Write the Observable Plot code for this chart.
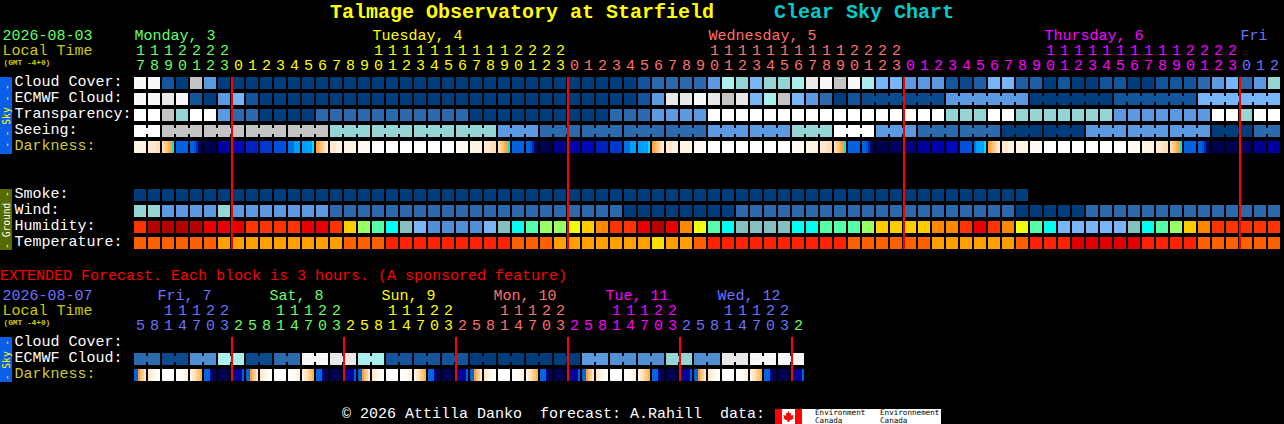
<!DOCTYPE html>
<html>
<head>
<meta charset="utf-8">
<script src="https://cdn.jsdelivr.net/npm/d3@7"></script>
<script src="https://cdn.jsdelivr.net/npm/@observablehq/plot@0.6"></script>
<style>
  html, body { margin: 0; padding: 0; background: #000; overflow: hidden; }
  body { width: 1284px; height: 424px; position: relative; font-family: "Liberation Mono", monospace; font-size: 15px; color: #fff; }
  #title { height: 25px; line-height: 25px; text-align: center; font-size: 20px; font-weight: bold; white-space: pre; }
  #ext { height: 17px; line-height: 17px; color: #ff0000; white-space: pre; }
  svg { display: block; }
  #foot { position: absolute; left: 342px; top: 406px; line-height: 18px; white-space: pre; }
  #logo { position: absolute; left: 775px; top: 409px; width: 166px; height: 15px; background: #fff; overflow: hidden; color: #000; font-family: "DejaVu Sans Mono", monospace; font-size: 7.6px; line-height: 8px; }
  #logo i { position: absolute; top: 0; width: 7px; height: 15px; background: #f00; }
  #leaf { position: absolute; left: 8px; top: 2px; width: 11px; height: 11px; background: #f00;
    clip-path: polygon(50% 0, 62% 22%, 75% 16%, 70% 42%, 100% 38%, 88% 60%, 100% 68%, 58% 86%, 58% 100%, 42% 100%, 42% 86%, 0 68%, 12% 60%, 0 38%, 30% 42%, 25% 16%, 38% 22%); }
  #logo span { position: absolute; top: 0; white-space: pre; }
</style>
</head>
<body>
<div id="title"><span style="color:#ffff00">Talmage Observatory at Starfield</span>     <span style="color:#00cccc">Clear Sky Chart</span></div>
<div id="main"></div>
<div id="ext">EXTENDED Forecast. Each block is 3 hours. (A sponsored feature)</div>
<div id="extchart"></div>
<div id="foot">© 2026 Attilla Danko  forecast: A.Rahill  data:</div>
<div id="logo"><i style="left:0"></i><i style="left:20px"></i><div id="leaf"></div><span style="left:40px">Environment
Canada</span><span style="left:105px">Environnement
Canada</span></div>
<script>
const FONT = '"Liberation Mono", monospace';

// ---- Hour-by-hour forecast -------------------------------------------------
const hours = [17,18,19,20,21,22,23,
  0,1,2,3,4,5,6,7,8,9,10,11,12,13,14,15,16,17,18,19,20,21,22,23,
  0,1,2,3,4,5,6,7,8,9,10,11,12,13,14,15,16,17,18,19,20,21,22,23,
  0,1,2,3,4,5,6,7,8,9,10,11,12,13,14,15,16,17,18,19,20,21,22,23,
  0,1,2];
const days = ["Monday, 3","Tuesday, 4","Wednesday, 5","Thursday, 6","Fri"];
const dayLabelCols = [0,17,41,65,79];
const dayFirstCols = [0,7,31,55,79];
const dayColors = ["#66ff66","#ffff00","#ff7070","#ff00ff","#7070ff"];
const midnightCols = [7,31,55,79];

const cloudCover = [90,90,10,0,70,30,0,
  0,0,0,0,0,0,0,0,0,0,0,0,0,0,0,0,0,0,0,0,0,0,0,0,0,0,0,0,0,
  10,20,20,20,20,30,50,60,40,60,60,50,80,90,70,90,
  50,40,40,30,30,30,10,5,15,40,40,15,15,0,10,0,0,10,10,0,0,10,10,10,20,30,40,20,30,60];
const ecmwfHourly = [90,90,80,90,10,0,30,40,10,
  0,0,0,0,0,0,0,0,0,0,0,0,0,0,0,0,0,0,0,0,0,0,0,0,0,0,0,
  10,30,80,80,90,80,70,80,40,50,70,40,30,20,0,10];
const ecmwfBlocks = [5,30,0,10,40];
const transparency = [100,100,70,60,100,100,30,20,20,0,0,0,0,
  20,20,20,20,20,20,20,20,20,20,20,
  0,0,0,0,0,0,0,0,0,0,
  20,20,20,30,30,30,30,
  100,100,100,100,100,100,100,100,100,100,100,100,100,100,100,100,100,
  60,60,60,100,100,60,60,60,60,60,60,60,
  30,30,30,30,30,30,30,100,100,60,100,100];
const seeingBlocks = [100,70,70,70,70,60,60,60,60,30,20,20,20,20,30,30,60,100,30,20,20,0,0,30,30,30,0,20];
const seeingSpans  = [2,3,3,3,3,3,3,3,3,3,3,3,3,3,3,3,3,3,3,3,3,3,3,3,3,3,3,2];
const darkness = ["b","ccd","defghi","l","llmxtu","v","r","p","o","n","m","kj","jjjjji","hgfedc","cb","b","a",
  "W","W","W","W","W","W","a","b","cd","defghi","l","llmxtu","v","s","q","p","o","n","kj","jjjjji","hgfedc","cb","b","a",
  "W","W","W","W","W","W","a","b","cd","defghi","l","llmxtu","v","u","t","r","q","p","m","kjjjji","hgfedc","cb","b","a",
  "W","W","W","W","W","W","a","b","cd","defghi","l","llmxtu","v","v","u","s","r"];
const smoke = [0,0,0,0,0,0,0,0,0,0,0,0,0,0,0,0,0,0,0,0,0,0,0,0,0,0,0,0,0,0,0,0,
  0,0,0,0,0,0,0,0,0,0,0,0,0,0,0,0,0,0,0,0,0,0,0,0,0,0,0,0,0,0,0,0];
const wind = [60,60,30,30,30,30,60,30,30,30,30,30,30,30,
  20,20,20,20,20,20,20,20,20,20,20,20,20,20,20,20,20,20,20,20,20,
  0,0,0,0,0,0,0,0,
  20,20,20,20,20,20,20,20,20,20,20,20,20,20,20,20,20,20,20,20,
  0,0,0,0,0,
  20,20,20,20,20,20,20,20,20,20,20,20,20,20];
const humidity = [9,11,11,11,11,10,10,10,9,9,9,9,10,10,9,7,5,4,3,2,1,
  0,0,0,0,1,2,3,4,5,5,6,7,8,9,9,10,11,10,8,6,4,3,2,2,2,2,3,3,4,4,4,
  5,7,7,7,7,8,8,9,10,9,8,6,4,3,1,1,1,1,1,2,3,4,5,7,8,9,9,9,9,9];
const temperature = [2,2,2,2,2,2,3,3,3,3,3,3,3,3,3,2,2,2,1,1,1,1,1,1,1,1,1,2,2,2,
  3,3,3,3,3,3,3,4,3,3,2,1,1,1,1,1,1,1,1,1,1,2,2,2,2,2,2,
  3,3,3,3,3,3,2,1,1,1,0,0,0,0,0,1,1,1,1,2,2,2,2,2,2];

const mainRows = ["Cloud Cover:","ECMWF Cloud:","Transparency:","Seeing:","Darkness:","","","Smoke:","Wind:","Humidity:","Temperature:"];

// ---- Extended forecast (3-hour blocks) -------------------------------------
const extHours = [5,8,11,14,17,20,23, 2,5,8,11,14,17,20,23, 2,5,8,11,14,17,20,23,
  2,5,8,11,14,17,20,23, 2,5,8,11,14,17,20,23, 2,5,8,11,14,17,20,23, 2];
const extDays = ["Fri, 7","Sat, 8","Sun, 9","Mon, 10","Tue, 11","Wed, 12"];
const extDayLabelCols = [2,10,18,26,34,42];
const extDayFirstCols = [0,7,15,23,31,39,47];
const extDayColors = ["#7070ff","#66ff66","#ffff00","#ff7070","#ff00ff","#7070ff","#66ff66"];
const extMidnightCols = [7,15,23,31,39,47];
const extEcmwfBlocks = [20,5,25,50,5,20,90,80,50,10,10,10,0,0,0,0,30,25,25,60,25,80,90,90];
const extDarkness = [
  "llhfec","cbaW","W","Wab","bcdefg","lllsuu","v","utrrrl",
  "llhfec","cbaW","W","Wab","bcdefg","lllsuu","v","utrrrl",
  "llhfec","cbaW","W","Wab","bcdefg","lllsuu","v","utrrrl",
  "llhfec","cbaW","W","Wab","bcdefg","lllsuu","v","utrrrl",
  "llhfec","cbaW","W","Wab","bcdefg","lllsuu","v","utrrrl",
  "llhfec","cbaW","W","Wab","bcdefg","lllsuu","v","utrrrl"];
const extRows = ["Cloud Cover:","ECMWF Cloud:","Darkness:"];

// ---- Colour keys ------------------------------------------------------------
const cloudColors = {0:"#003d7d",5:"#0b4a8c",10:"#13559a",15:"#1f5fa5",20:"#2b6aad",25:"#4f8fd2",30:"#5b9ae0",40:"#78b4f8",
  50:"#aaeeee",60:"#95d5d5",70:"#c4c4c4",80:"#e8e8e8",90:"#f8f8f8",100:"#ffffff"};
const humidityColors = ["#4f8fd8","#78b4f6","#85c0c0","#00ffee","#55ffaa","#99ff66","#eeff11","#ffcc00","#ff8800","#ff3300","#e60000","#b50000"];
const temperatureColors = ["#e00000","#ff2200","#ff6000","#ffa000","#ffdd00"];
const darknessColors = {W:"#ffffff",a:"#fffaf2",b:"#fff3e2",c:"#ffe8cc",d:"#ffe0bc",e:"#ffd090",f:"#ffc070",g:"#ffb050",h:"#ffa030",
  i:"#00e0ff",j:"#00a0ff",k:"#0070e8",l:"#0064e0",m:"#0050e0",n:"#0038d0",o:"#0020c0",p:"#0008b8",q:"#0000b0",r:"#0000a0",
  s:"#000090",t:"#000080",u:"#000060",v:"#000050",x:"#0030a0"};

// ---- Geometry helpers: one scale unit is a column (x) or a row (y) ----------
const CW = 12/14, CH = 12/16, MID = 6/14, RMID = 6/16;

const cellsOf = (row, values, colors, start = 0) =>
  values.map((v, i) => ({col: start + i, row, fill: colors[v]}));

function blocksOf(row, values, spans, start) {
  const cells = [], bridges = [];
  let col = start;
  values.forEach((v, i) => {
    const span = Array.isArray(spans) ? spans[i] : spans;
    for (let k = 0; k < span; k++) {
      cells.push({col: col + k, row, fill: cloudColors[v]});
      if (k < span - 1) bridges.push({col: col + k, row, fill: cloudColors[v]});
    }
    col += span;
  });
  return {cells, bridges};
}

const slicesOf = (row, values) => values.flatMap((s, col) =>
  Array.from(s, (c, i) => ({col, row, a: i / s.length, b: (i + 1) / s.length, fill: darknessColors[c]})));

function renderChart({rowsLabels, labelColors, nrows, range, height, cells, bridges, slices, hoursData,
                      dayNames, dayLabels, dayFirst, dayCols, rules, ruleEnd, tabs, dateText, dateColor, dayDx}) {
  const hourColor = i => dayCols[d3.bisectRight(dayFirst, i) - 1];
  const hourRows = hoursData.map((h, col) => ({col, h, fill: hourColor(col)}));
  const rowY = r => r + RMID;
  return Plot.plot({
    width: 1284, height,
    marginTop: 0, marginRight: 0, marginBottom: 0, marginLeft: 0,
    style: {background: "#000", fontFamily: FONT, color: "#fff"},
    x: {domain: [0, 82], range: [134, 1282], axis: null},
    y: {domain: [0, nrows], range, axis: null},
    color: {type: "identity"},
    marks: [
      Plot.rect(tabs, {y1: "y1", y2: "y2", fill: "fill", insetRight: 1272, shapeRendering: "crispEdges"}),
      Plot.text(tabs, {y: d => (d.y1 + d.y2) / 2, text: "text", fill: "color", frameAnchor: "left", textAnchor: "middle", dx: 6, rotate: -90, fontSize: 9.6, fontFamily: '"DejaVu Sans Mono", monospace'}),
      Plot.rect(cells, {x1: "col", x2: d => d.col + CW, y1: "row", y2: d => d.row + CH, fill: "fill", shapeRendering: "crispEdges"}),
      Plot.rect(bridges, {x1: d => d.col + CW, x2: d => d.col + 1, y1: d => d.row + 3/16, y2: d => d.row + 9/16, fill: "fill", shapeRendering: "crispEdges"}),
      Plot.rect(slices, {x1: d => d.col + d.a * CW, x2: d => d.col + d.b * CW, y1: "row", y2: d => d.row + CH, fill: "fill", shapeRendering: "crispEdges"}),
      // midnight markers, two pixels wide and centred on the day boundary
      Plot.rect(rules, {x1: d => d - 1/14, x2: d => d + 1/14, y1: 0, y2: ruleEnd, fill: "#ff0000", shapeRendering: "crispEdges"}),
      // row labels
      Plot.text(rowsLabels, {y: (d, i) => rowY(i), text: d => d, fill: (d, i) => labelColors[i], frameAnchor: "left", textAnchor: "start", dx: 14, dy: -2, fontSize: 15, fontFamily: FONT}),
      // left header
      Plot.text([dateText], {y: rowY(-3), text: d => d, fill: dateColor, frameAnchor: "left", textAnchor: "start", dx: 2, fontSize: 15, fontFamily: FONT}),
      Plot.text(["Local Time"], {y: rowY(-2), text: d => d, fill: "#cccc00", frameAnchor: "left", textAnchor: "start", dx: 2, dy: -1, fontSize: 15, fontFamily: FONT}),
      Plot.text(["(GMT -4+0)"], {y: rowY(-1), text: d => d, fill: "#cccc00", frameAnchor: "left", textAnchor: "start", dx: 3, dy: -5, fontSize: 7.8, fontWeight: "bold", fontFamily: FONT}),
      // day names and hour digits
      Plot.text(dayNames, {x: (d, i) => dayLabels[i], y: rowY(-3), text: d => d, fill: (d, i) => dayCols[d3.bisectRight(dayFirst, dayLabels[i]) - 1], textAnchor: "start", dx: dayDx, fontSize: 15, fontFamily: FONT}),
      Plot.text(hourRows.filter(d => d.h >= 10), {x: d => d.col + MID, y: rowY(-2), text: d => String(Math.floor(d.h / 10)), fill: "fill", dy: -1, fontSize: 15, fontFamily: FONT}),
      Plot.text(hourRows, {x: d => d.col + MID, y: rowY(-1), text: d => String(d.h % 10), fill: "fill", dy: -2, fontSize: 15, fontFamily: FONT})
    ]
  });
}

// ---- Main chart ------------------------------------------------------------
const seeing = blocksOf(3, seeingBlocks, seeingSpans, 0);
const ecmwfTail = blocksOf(1, ecmwfBlocks, 6, 52);
const Y_LABEL = "#cccc33";
document.getElementById("main").append(renderChart({
  rowsLabels: mainRows,
  labelColors: mainRows.map(r => r === "Darkness:" ? Y_LABEL : "#ffffff"),
  nrows: 10, range: [52, 212], height: 243,
  cells: [
    ...cellsOf(0, cloudCover, cloudColors),
    ...cellsOf(1, ecmwfHourly, cloudColors),
    ...ecmwfTail.cells,
    ...cellsOf(2, transparency, cloudColors),
    ...seeing.cells,
    ...cellsOf(7, smoke, cloudColors),
    ...cellsOf(8, wind, cloudColors),
    ...cellsOf(9, humidity, humidityColors),
    ...cellsOf(10, temperature, temperatureColors)
  ],
  bridges: [...seeing.bridges, ...ecmwfTail.bridges],
  slices: slicesOf(4, darkness),
  hoursData: hours, dayNames: days, dayLabels: dayLabelCols, dayFirst: dayFirstCols, dayCols: dayColors,
  rules: midnightCols, ruleEnd: 10.75,
  tabs: [
    {y1: 0, y2: 4.8125, fill: "#0a5fe8", text: "- - Sky - -", color: "#ffff00"},
    {y1: 7, y2: 10.8125, fill: "#556b00", text: "- Ground -", color: "#ffffff"}
  ],
  dateText: "2026-08-03", dateColor: "#66ff66", dayDx: 0
}));

// ---- Extended chart --------------------------------------------------------
const extEcmwf = blocksOf(1, extEcmwfBlocks, 2, 0);
document.getElementById("extchart").append(renderChart({
  rowsLabels: extRows,
  labelColors: extRows.map(r => r === "Darkness:" ? Y_LABEL : "#ffffff"),
  nrows: 2, range: [52, 84], height: 119,
  cells: extEcmwf.cells,
  bridges: extEcmwf.bridges,
  slices: slicesOf(2, extDarkness),
  hoursData: extHours, dayNames: extDays, dayLabels: extDayLabelCols, dayFirst: extDayFirstCols, dayCols: extDayColors,
  rules: extMidnightCols, ruleEnd: 2.75,
  tabs: [{y1: 0, y2: 2.8125, fill: "#0a5fe8", text: "- Sky -", color: "#ffff00"}],
  dateText: "2026-08-07", dateColor: "#7070ff", dayDx: -5
}));
</script>
</body>
</html>
